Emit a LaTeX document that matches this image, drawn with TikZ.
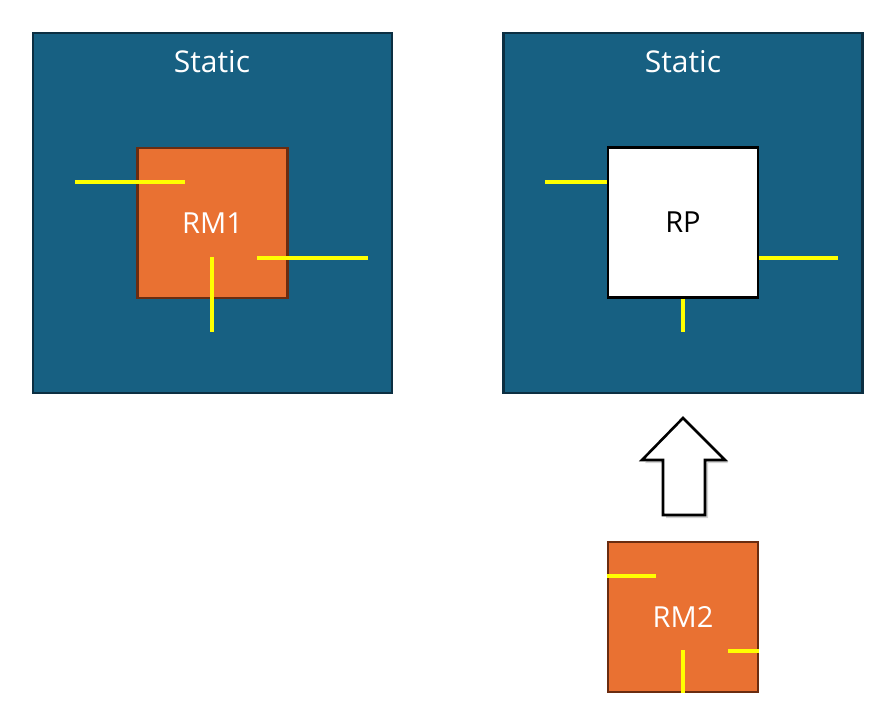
\documentclass[tikz,border=0pt]{standalone}
\usepackage{fontspec}
\setmainfont{Open Sans}
\usetikzlibrary{positioning,shadows}
\definecolor{staticblue}{HTML}{176082}
\definecolor{staticedge}{HTML}{0C2F42}
\definecolor{rmorange}{HTML}{E97132}
\definecolor{rmedge}{HTML}{6A2C10}
\definecolor{wire}{HTML}{FFFF00}
\begin{document}
\begin{tikzpicture}[x=1pt,y=-1pt,
  staticbox/.style={draw=staticedge,fill=staticblue,line width=2.2pt,minimum width=359pt,minimum height=360pt,inner sep=0pt},
  rmbox/.style={draw=rmedge,fill=rmorange,line width=2.6pt,minimum width=150pt,minimum height=150pt,inner sep=0pt,text=white,font=\fontsize{29}{34}\selectfont},
  rpbox/.style={draw=black,fill=white,line width=2.6pt,minimum width=150pt,minimum height=150pt,inner sep=0pt,text=black,font=\fontsize{29}{34}\selectfont},
  title/.style={text=white,font=\fontsize{30}{35}\selectfont,inner sep=0pt},
  wireline/.style={draw=wire,line width=4pt}
]
\useasboundingbox (0,0) rectangle (894,720);
% left
\node[staticbox] (sL) at (212.5,213) {};
\node[title] (tL) at (212,62) {Static};
\node[rmbox] (rm1) at (212.5,223) {RM1};
\coordinate (a1) at (75,182); \coordinate (a2) at (185,182);
\coordinate (b1) at (257,258); \coordinate (b2) at (368,258);
\coordinate (c1) at (212,257); \coordinate (c2) at (212,332);
\draw[wireline] (a1) -- (a2);
\draw[wireline] (b1) -- (b2);
\draw[wireline] (c1) -- (c2);
% right
\node[staticbox] (sR) at (683,213) {};
\node[title] (tR) at (683,62) {Static};
\node[rpbox] (rp) at (683,222.5) {RP};
\coordinate (d1) at (545,182);
\coordinate (e2) at (838,258);
\coordinate (f2) at (683,332);
\draw[wireline] (d1) -- (rp.west |- d1);
\draw[wireline] (rp.east |- e2) -- (e2);
\draw[wireline] (rp.south) -- (f2);
% arrow
\draw[fill=white,line width=2.6pt,draw=black,drop shadow={shadow xshift=3pt,shadow yshift=-3pt,opacity=0.35}]
  (683,418) -- (725,460) -- (705,460) -- (705,515) -- (663,515) -- (663,460) -- (642,460) -- cycle;
% RM2
\node[rmbox] (rm2) at (683,617) {RM2};
\coordinate (g2) at (656,576);
\coordinate (h1) at (728,651);
\coordinate (i1) at (683,650);
\draw[wireline] (rm2.west |- g2) -- (g2);
\draw[wireline] (h1) -- (rm2.east |- h1);
\draw[wireline] (i1) -- (rm2.south -| i1);
\end{tikzpicture}
\end{document}
